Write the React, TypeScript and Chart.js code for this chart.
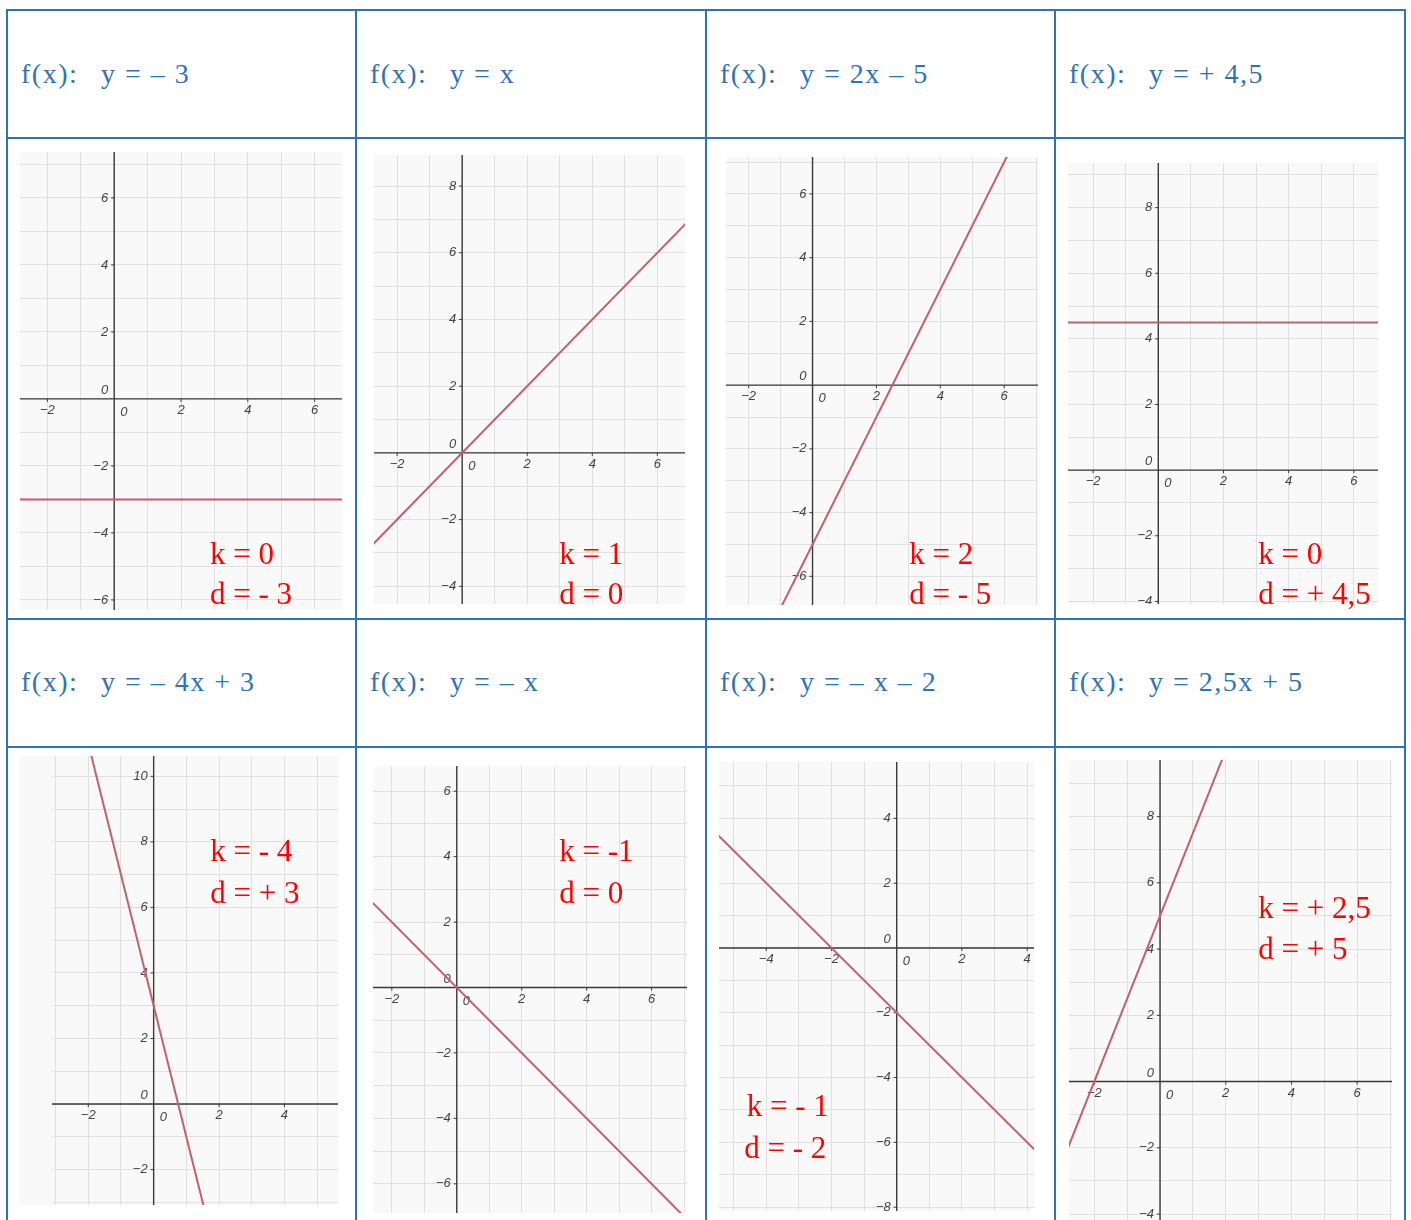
import React, { useEffect, useRef } from "react";
import { Chart, registerables } from "chart.js";

Chart.register(...registerables);

// ---- data ----
const formulas = ["y = – 3", "y = x", "y = 2x – 5", "y = + 4,5", "y = – 4x + 3", "y = – x", "y = – x – 2", "y = 2,5x + 5"];
const kTexts = ["k = 0", "k = 1", "k = 2", "k = 0", "k = - 4", "k = -1", "k = - 1", "k = + 2,5"];
const dTexts = ["d = - 3", "d = 0", "d = - 5", "d = + 4,5", "d = + 3", "d = 0", "d = - 2", "d = + 5"];

const xMins = [-2.82, -2.71, -2.71, -2.77, -3.11, -2.58, -5.45, -2.77];
const xMaxs = [6.82, 6.85, 7.06, 6.74, 5.64, 7.09, 4.21, 7.06];
const yMins = [-6.3, -4.53, -6.9, -4.08, -3.08, -6.89, -8.12, -4.18];
const yMaxs = [7.37, 8.93, 7.16, 9.36, 10.62, 6.77, 5.74, 9.71];

const xTickLabels = [
  [-2, 0, 2, 4, 6],
  [-2, 0, 2, 4, 6],
  [-2, 0, 2, 4, 6],
  [-2, 0, 2, 4, 6],
  [-2, 0, 2, 4],
  [-2, 0, 2, 4, 6],
  [-4, -2, 0, 2, 4],
  [-2, 0, 2, 4, 6],
];
const yTickLabels = [
  [-6, -4, -2, 0, 2, 4, 6],
  [-4, -2, 0, 2, 4, 6, 8],
  [-6, -4, -2, 0, 2, 4, 6],
  [-4, -2, 0, 2, 4, 6, 8],
  [-2, 0, 2, 4, 6, 8, 10],
  [-6, -4, -2, 0, 2, 4, 6],
  [-8, -6, -4, -2, 0, 2, 4],
  [-4, -2, 0, 2, 4, 6, 8],
];

// two points on each drawn line
const lineXs = [[-3, 7], [-3, 7], [-1, 6.5], [-3, 7], [-2, 1.75], [-3, 7.5], [-6, 4.5], [-3, 2]];
const lineYs = [[-3, -3], [-3, 7], [-7, 8], [4.5, 4.5], [11, -4], [3, -7.5], [4, -6.5], [-2.5, 10]];

// ---- layout ----
const boxes = [
  { left: 20, top: 152, width: 322, height: 458, padLeft: 0 },
  { left: 374, top: 155, width: 311, height: 449, padLeft: 0 },
  { left: 726, top: 157, width: 312, height: 448, padLeft: 0 },
  { left: 1068, top: 163, width: 310, height: 441, padLeft: 0 },
  { left: 19, top: 756, width: 319, height: 449, padLeft: 33 },
  { left: 373, top: 766, width: 314, height: 447, padLeft: 0 },
  { left: 719, top: 762, width: 315, height: 449, padLeft: 0 },
  { left: 1069, top: 760, width: 323, height: 460, padLeft: 0 },
];
const notePos = [
  { kx: 210, ky: 537.5, dx: 210, dy: 577.7 },
  { kx: 559.3, ky: 537.5, dx: 559.3, dy: 577.7 },
  { kx: 909.3, ky: 537.5, dx: 909.3, dy: 577.7 },
  { kx: 1258.3, ky: 537.5, dx: 1258.3, dy: 577.7 },
  { kx: 210.3, ky: 835, dx: 210.3, dy: 876.7 },
  { kx: 559.3, ky: 835, dx: 559.3, dy: 876.7 },
  { kx: 746.7, ky: 1090, dx: 744.3, dy: 1131.7 },
  { kx: 1258.3, ky: 891.7, dx: 1258.3, dy: 933.3 },
];
const colLines = [6, 355, 705, 1054, 1404];
const rowLines = [9, 137, 618, 746];
const headerTops = [59.5, 667.5];
const BLUE = "#2E74B5";

const originAxesPlugin = {
  id: "originAxes",
  beforeDraw(chart: any) {
    const { ctx, width, height } = chart;
    ctx.save();
    ctx.fillStyle = "#f9f9f9";
    ctx.fillRect(0, 0, width, height);
    ctx.restore();
  },
  beforeDatasetsDraw(chart: any, _args: any, opts: any) {
    const { ctx, chartArea: a } = chart;
    const xs = chart.scales.x;
    const ys = chart.scales.y;
    const x0 = xs.getPixelForValue(0);
    const y0 = ys.getPixelForValue(0);
    ctx.save();
    ctx.strokeStyle = "#3a3a3a";
    ctx.lineWidth = 1.4;
    ctx.beginPath();
    ctx.moveTo(a.left, y0);
    ctx.lineTo(a.right, y0);
    ctx.moveTo(x0, a.top);
    ctx.lineTo(x0, a.bottom);
    ctx.stroke();
    ctx.font = 'italic 13px "Liberation Sans", Arial, sans-serif';
    ctx.fillStyle = "#444444";
    ctx.lineWidth = 1;
    const fmt = (v: number) => (v < 0 ? "\u2212" + Math.abs(v) : String(v));
    for (const v of opts.xLabels as number[]) {
      if (v === 0) {
        ctx.textAlign = "left";
        ctx.textBaseline = "top";
        ctx.fillText("0", x0 + 6, y0 + 7);
        continue;
      }
      const px = xs.getPixelForValue(v);
      ctx.beginPath();
      ctx.moveTo(px, y0);
      ctx.lineTo(px, y0 + 3);
      ctx.stroke();
      ctx.textAlign = "center";
      ctx.textBaseline = "top";
      ctx.fillText(fmt(v), px, y0 + 5);
    }
    for (const v of opts.yLabels as number[]) {
      if (v === 0) {
        ctx.textAlign = "right";
        ctx.textBaseline = "bottom";
        ctx.fillText("0", x0 - 6, y0 - 2);
        continue;
      }
      const py = ys.getPixelForValue(v);
      ctx.beginPath();
      ctx.moveTo(x0 - 3, py);
      ctx.lineTo(x0, py);
      ctx.stroke();
      ctx.textAlign = "right";
      ctx.textBaseline = "middle";
      ctx.fillText(fmt(v), x0 - 6, py);
    }
    ctx.restore();
  },
};

function integerTicks(scale: any) {
  const out: { value: number }[] = [];
  for (let v = Math.ceil(scale.min); v <= Math.floor(scale.max); v++) out.push({ value: v });
  scale.ticks = out;
}

function Graph({ i }: { i: number }) {
  const ref = useRef<HTMLCanvasElement | null>(null);
  const b = boxes[i];
  useEffect(() => {
    if (!ref.current) return;
    const gridCfg = { color: "#e0e0e0", lineWidth: 1, drawTicks: false };
    const chart = new Chart(ref.current, {
      type: "scatter",
      data: {
        datasets: [
          {
            data: lineXs[i].map((x, j) => ({ x, y: lineYs[i][j] })),
            showLine: true,
            borderColor: "#c45f6b",
            borderWidth: 2,
            pointRadius: 0,
            pointHoverRadius: 0,
          },
        ],
      },
      options: {
        responsive: false,
        animation: false,
        events: [],
        layout: { padding: { left: b.padLeft, right: 0, top: 0, bottom: 0 } },
        plugins: {
          legend: { display: false },
          tooltip: { enabled: false },
          originAxes: { xLabels: xTickLabels[i], yLabels: yTickLabels[i] },
        } as any,
        scales: {
          x: {
            type: "linear",
            min: xMins[i],
            max: xMaxs[i],
            afterBuildTicks: integerTicks,
            ticks: { display: false },
            grid: gridCfg,
            border: { display: false },
          },
          y: {
            type: "linear",
            min: yMins[i],
            max: yMaxs[i],
            afterBuildTicks: integerTicks,
            ticks: { display: false },
            grid: gridCfg,
            border: { display: false },
          },
        },
      } as any,
      plugins: [originAxesPlugin as any],
    });
    return () => chart.destroy();
  }, [i]);
  return (
    <canvas
      ref={ref}
      width={b.width}
      height={b.height}
      style={{ position: "absolute", left: b.left, top: b.top, width: b.width, height: b.height }}
    />
  );
}

const serif = '"Liberation Serif", "Times New Roman", serif';

export default function App() {
  const headerStyle = (left: number, top: number): React.CSSProperties => ({
    position: "absolute",
    left,
    top,
    fontFamily: serif,
    fontSize: 28,
    lineHeight: "28px",
    letterSpacing: "1.5px",
    color: BLUE,
    whiteSpace: "pre",
  });
  const noteStyle = (left: number, top: number): React.CSSProperties => ({
    position: "absolute",
    left,
    top,
    fontFamily: serif,
    fontSize: 31,
    lineHeight: "31px",
    color: "#ff0000",
    whiteSpace: "pre",
    zIndex: 2,
  });
  return (
    <div style={{ position: "absolute", left: 0, top: 0, width: 1411, height: 1220, background: "#fff", overflow: "hidden" }}>
      {boxes.map((_, i) => (
        <Graph key={"g" + i} i={i} />
      ))}
      {formulas.map((f, i) => {
        const col = i % 4;
        const row = Math.floor(i / 4);
        const cx = colLines[col] + 1;
        return (
          <React.Fragment key={"h" + i}>
            <div style={headerStyle(cx + 14, headerTops[row])}>f(x):</div>
            <div style={headerStyle(cx + 94, headerTops[row])}>{f}</div>
          </React.Fragment>
        );
      })}
      {kTexts.map((k, i) => (
        <React.Fragment key={"n" + i}>
          <div style={noteStyle(notePos[i].kx, notePos[i].ky)}>{k}</div>
          <div style={noteStyle(notePos[i].dx, notePos[i].dy)}>{dTexts[i]}</div>
        </React.Fragment>
      ))}
      {colLines.map((x, i) => (
        <div key={"c" + i} style={{ position: "absolute", left: x, top: rowLines[0], width: 2, height: 1220 - rowLines[0], background: BLUE, zIndex: 3 }} />
      ))}
      {rowLines.map((y, i) => (
        <div key={"r" + i} style={{ position: "absolute", left: colLines[0], top: y, width: colLines[4] + 2 - colLines[0], height: 2, background: BLUE, zIndex: 3 }} />
      ))}
    </div>
  );
}
